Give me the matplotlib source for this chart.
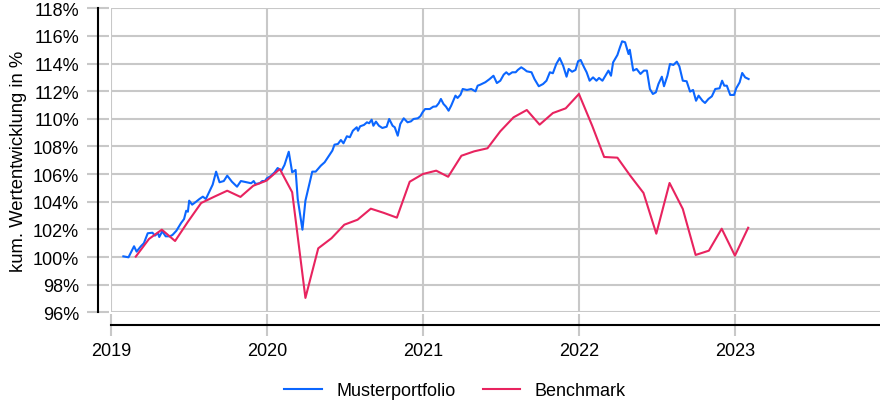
"""Kumulierte Wertentwicklung: Musterportfolio vs. Benchmark (2019-2023)."""

import matplotlib
matplotlib.use("Agg")
import matplotlib.pyplot as plt
import matplotlib.dates as mdates
from matplotlib.ticker import FuncFormatter
import pandas as pd

# Musterportfolio: days since 2019-01-01 and cumulative value in %
mp_days = [
    29, 41, 54, 60, 70, 77, 86, 97, 103, 110, 113, 120, 128, 138, 144, 153,
    164, 171, 176, 180, 183, 190, 199, 207, 215, 222, 231, 238, 246, 254, 264,
    272, 283, 295, 304, 317, 328, 334, 338, 348, 354, 360, 365, 373, 383, 390,
    399, 406, 416, 424, 432, 437, 448, 455, 471, 479, 491, 500, 510, 518, 523,
    531, 538, 544, 552, 559, 566, 575, 578, 583, 592, 599, 604, 610, 614, 620,
    627, 635, 645, 651, 659, 664, 671, 677, 685, 694, 702, 708, 718, 724, 729,
    735, 746, 754, 761, 767, 772, 778, 784, 790, 796, 806, 811, 818, 823, 833,
    843, 853, 858, 864, 876, 886, 895, 903, 911, 919, 925, 931, 939, 947, 952,
    960, 966, 973, 984, 991, 1001, 1011, 1019, 1027, 1034, 1042, 1050, 1058,
    1066, 1071, 1079, 1087, 1093, 1099, 1107, 1113, 1120, 1128, 1136, 1142,
    1150, 1157, 1164, 1170, 1175, 1185, 1191, 1196, 1203, 1211, 1214, 1222,
    1230, 1239, 1247, 1254, 1261, 1268, 1275, 1281, 1289, 1294, 1302, 1308,
    1316, 1324, 1330, 1338, 1347, 1355, 1362, 1369, 1375, 1384, 1390, 1398,
    1406, 1414, 1424, 1430, 1435, 1441, 1449, 1458, 1463, 1471, 1477, 1484,
    1492,
]
mp_values = [
    100.05, 99.98, 100.78, 100.39, 100.78, 101.0, 101.72, 101.76, 101.55,
    101.74, 101.45, 101.86, 101.5, 101.5, 101.6, 101.9, 102.46, 102.75, 103.35,
    103.28, 104.08, 103.79, 104.0, 104.2, 104.37, 104.2, 104.78, 105.24, 106.18,
    105.41, 105.5, 105.89, 105.45, 105.09, 105.5, 105.41, 105.34, 105.5, 105.29,
    105.34, 105.5, 105.5, 105.7, 105.84, 106.13, 106.44, 106.25, 106.66, 107.62,
    106.13, 106.3, 104.2, 101.98, 104.08, 106.18, 106.18, 106.61, 106.86,
    107.33, 107.7, 108.13, 108.18, 108.47, 108.23, 108.74, 108.67, 109.14,
    109.39, 109.14, 109.46, 109.56, 109.75, 109.68, 109.94, 109.5, 109.8,
    109.5, 109.34, 109.43, 109.99, 109.5, 109.39, 108.78, 109.63, 110.04,
    109.75, 109.82, 109.99, 110.04, 110.19, 110.47, 110.71, 110.71, 110.88,
    110.9, 111.13, 111.44, 111.08, 110.88, 110.59, 110.95, 111.68, 111.51,
    111.75, 112.16, 112.09, 112.16, 111.99, 112.4, 112.47, 112.65, 112.88,
    113.12, 112.59, 112.76, 113.2, 113.37, 113.2, 113.37, 113.37, 113.54,
    113.73, 113.61, 113.44, 113.37, 112.88, 112.36, 112.52, 112.76, 113.37,
    113.3, 113.97, 114.4, 113.85, 113.05, 113.61, 113.41, 113.54, 114.17,
    114.26, 113.73, 113.37, 112.76, 113.0, 112.76, 112.96, 112.76, 113.12,
    113.49, 113.12, 114.09, 114.62, 115.18, 115.61, 115.54, 114.69, 115.0,
    113.49, 113.61, 113.25, 113.49, 113.49, 112.16, 111.8, 111.92, 112.52,
    113.05, 112.36, 113.12, 113.97, 113.9, 114.14, 113.8, 112.76, 112.72,
    111.97, 112.09, 111.31, 111.68, 111.31, 111.15, 111.44, 111.63, 112.16,
    112.21, 112.76, 112.4, 112.4, 111.73, 111.73, 112.21, 112.64, 113.32,
    113.0, 112.88,
]

# Benchmark: monthly values (month end), Feb 2019 - Jan 2023
bm_start = "2019-02-28"
bm_values = [
    100.03, 101.31, 101.98, 101.16, 102.55, 103.91, 104.37, 104.8, 104.35,
    105.16, 105.53, 106.37, 104.69, 97.04, 100.63, 101.36, 102.34, 102.7,
    103.5, 103.2, 102.85, 105.45, 106.01, 106.25, 105.81, 107.33, 107.65,
    107.87, 109.1, 110.11, 110.64, 109.58, 110.42, 110.76, 111.8, 109.5,
    107.24, 107.19, 105.89, 104.64, 101.69, 105.36, 103.48, 100.15, 100.46,
    102.05, 100.1, 102.12,
]

year_ticks = [2019, 2020, 2021, 2022, 2023]
series_names = ["Musterportfolio", "Benchmark"]

BLUE = "#0b66ff"
RED = "#e8235f"
GRID = "#c8c8c8"


def main():
    plt.rcParams["font.family"] = ["Liberation Sans", "DejaVu Sans"]

    mp_dates = pd.Timestamp("2019-01-01") + pd.to_timedelta(mp_days, unit="D")
    bm_dates = pd.date_range(bm_start, periods=len(bm_values), freq="ME")

    fig = plt.figure(figsize=(8.8, 4.06), dpi=100)
    # right edge runs a bit past the figure so 2024 sits just outside
    ax = fig.add_axes([0.1261, 0.2283, 0.8868, 0.7488])

    ax.plot(mp_dates, mp_values, color=BLUE, lw=1.5, label=series_names[0], zorder=3)
    ax.plot(bm_dates, bm_values, color=RED, lw=1.5, label=series_names[1], zorder=3)

    x0, x1 = pd.Timestamp("2019-01-01"), pd.Timestamp("2024-01-01")
    ax.set_xlim(x0, x1)
    ax.set_ylim(96, 118)
    ax.set_yticks(range(96, 119, 2))
    ax.yaxis.set_major_formatter(FuncFormatter(lambda v, _: f"{v:.0f}%"))
    ax.set_xticks([pd.Timestamp(f"{y}-01-01") for y in year_ticks])
    ax.xaxis.set_major_formatter(mdates.DateFormatter("%Y"))

    ax.grid(True, color=GRID, lw=1.5, zorder=0)
    ax.xaxis.get_gridlines()[0].set_visible(False)

    for side in ("top", "right"):
        ax.spines[side].set_visible(False)
    ax.spines["left"].set_position(("outward", 9.4))
    ax.spines["bottom"].set_position(("outward", 9.1))
    for side in ("left", "bottom"):
        ax.spines[side].set_linewidth(1.5)
        ax.spines[side].set_color("black")

    ax.tick_params(axis="both", direction="inout", length=16, width=1.5,
                   color=GRID, labelsize=13, labelcolor="black")
    ax.tick_params(axis="y", pad=5.5)
    ax.tick_params(axis="x", pad=4)

    ax.set_ylabel("kum. Wertentwicklung in %", fontsize=13.3, labelpad=4.5)

    fig.legend(loc="center", bbox_to_anchor=(0.517, 0.035), ncol=2, frameon=False,
               fontsize=13, handlelength=2.1, handletextpad=0.8, columnspacing=1.5)

    fig.savefig("out.png", dpi=100)


if __name__ == "__main__":
    main()
